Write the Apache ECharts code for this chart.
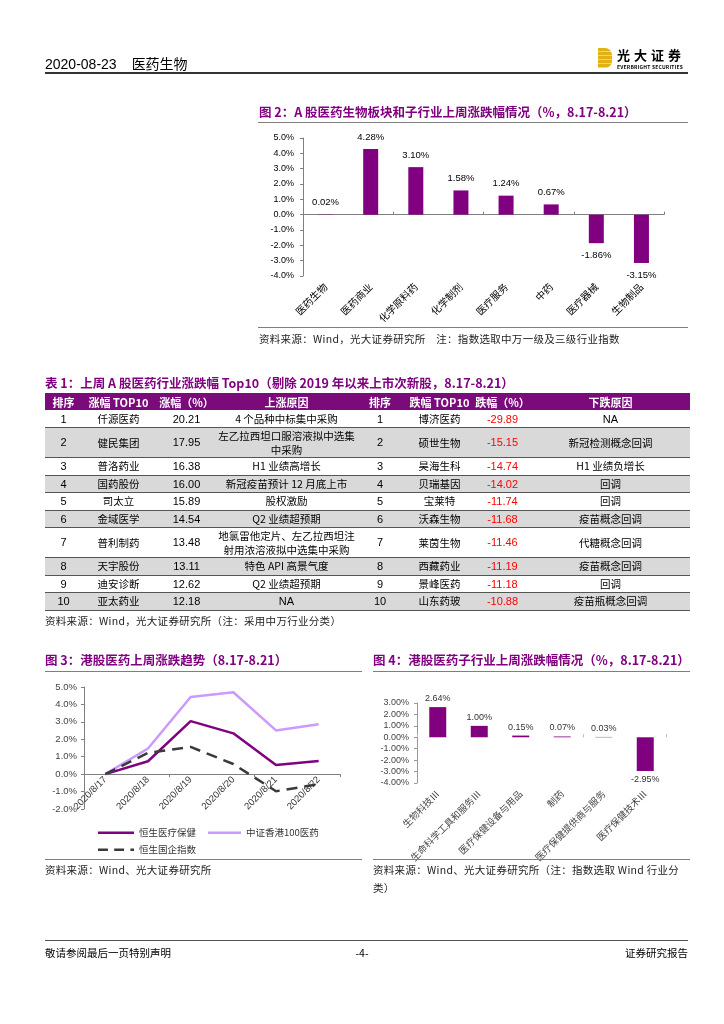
<!DOCTYPE html>
<html>
<head>
<meta charset="utf-8">
<script src="https://cdn.jsdelivr.net/npm/echarts@6/dist/echarts.min.js"></script>
<style>
  html,body{margin:0;padding:0;background:#fff;}
  #page{position:relative;width:724px;height:1024px;overflow:hidden;font-family:"Noto Sans CJK SC","Liberation Sans",sans-serif;color:#000;}
  #chart{position:absolute;left:0;top:0;width:724px;height:1024px;}
  .t{position:absolute;white-space:nowrap;}
  .ttl{color:#800080;font-weight:bold;font-size:12.5px;line-height:16px;}
  .src{font-size:10.5px;line-height:14px;color:#222;letter-spacing:0.3px;}
  .hl{position:absolute;height:0;}
  .num{font-family:"Liberation Sans",Arial,sans-serif;}
  table{position:absolute;left:45px;top:393px;width:645px;border-collapse:collapse;table-layout:fixed;}
  td,th{padding:0;text-align:center;vertical-align:middle;white-space:nowrap;overflow:hidden;box-sizing:border-box;}
  th{background:#7B0A7B;color:#fff;font-size:11px;font-weight:bold;height:17px;line-height:12px;}
  td{font-size:10.5px;height:17.5px;line-height:12px;}
  tr.b td{border-bottom:1px solid #555;}
  tr.g td{background:#D9D9D9;}
  tr.d td{height:30px;line-height:13.5px;}
  td.n{font-family:"Liberation Sans",Arial,sans-serif;font-size:11px;}
  td.r{color:#FF0000;}
</style>
</head>
<body>
<div id="page">
  <div id="chart"></div>

  <!-- header -->
  <div class="t" style="left:45px;top:54px;font-size:14px;line-height:18px;"><span class="num">2020-08-23</span><span style="margin-left:15px;">医药生物</span></div>
  <div class="hl" style="left:45px;top:72px;width:643px;border-top:2px solid #333;"></div>
  <div style="position:absolute;left:598px;top:48px;width:14px;height:20px;background:repeating-linear-gradient(180deg,#E2B215 0 3px,#F3D569 3px 4px);border-radius:0 7px 7px 0;"></div>
  <div class="t" style="left:617px;top:47px;font-size:13px;font-weight:bold;line-height:16px;letter-spacing:4px;font-family:'Noto Sans CJK SC';">光大证券</div>
  <div class="t" style="left:617px;top:64px;font-size:5px;line-height:6px;font-weight:bold;letter-spacing:0.2px;" >EVERBRIGHT SECURITIES</div>

  <!-- figure 2 -->
  <div class="t ttl" style="left:259px;top:104px;">图 2：A 股医药生物板块和子行业上周涨跌幅情况（%，8.17-8.21）</div>
  <div class="hl" style="left:258px;top:122px;width:430px;border-top:1.5px solid #7F7F7F;"></div>
  <div class="hl" style="left:258px;top:327px;width:430px;border-top:1.5px solid #7F7F7F;"></div>
  <div class="t src" style="left:259px;top:332px;">资料来源：Wind，光大证券研究所&nbsp;&nbsp;&nbsp;&nbsp;注：指数选取中万一级及三级行业指数</div>

  <!-- table 1 -->
  <div class="t ttl" style="left:45px;top:375px;">表 1：上周 A 股医药行业涨跌幅 Top10（剔除 2019 年以来上市次新股，8.17-8.21）</div>
  <table id="tbl">
    <colgroup>
      <col style="width:37px"><col style="width:73px"><col style="width:63px"><col style="width:137px">
      <col style="width:50px"><col style="width:69px"><col style="width:57px"><col style="width:159px">
    </colgroup>
    <thead><tr id="thead"></tr></thead>
    <tbody id="tbody"></tbody>
  </table>
  <div class="t src" style="left:45px;top:614px;">资料来源：Wind，光大证券研究所（注：采用中万行业分类）</div>

  <!-- figure 3 -->
  <div class="t ttl" style="left:45px;top:652px;">图 3：港股医药上周涨跌趋势（8.17-8.21）</div>
  <div class="hl" style="left:45px;top:671px;width:317px;border-top:1.5px solid #7F7F7F;"></div>
  <div class="hl" style="left:45px;top:859px;width:317px;border-top:1.5px solid #7F7F7F;"></div>
  <div class="t src" style="left:45px;top:863px;">资料来源：Wind、光大证券研究所</div>

  <!-- figure 4 -->
  <div class="t ttl" style="left:373px;top:652px;">图 4：港股医药子行业上周涨跌幅情况（%，8.17-8.21）</div>
  <div class="hl" style="left:373px;top:671px;width:317px;border-top:1.5px solid #7F7F7F;"></div>
  <div class="hl" style="left:373px;top:859px;width:317px;border-top:1.5px solid #7F7F7F;"></div>
  <div class="t src" style="left:373px;top:861px;line-height:18px;">资料来源：Wind、光大证券研究所（注：指数选取 Wind 行业分<br>类）</div>

  <!-- footer -->
  <div class="hl" style="left:45px;top:940px;width:643px;border-top:1.5px solid #555;"></div>
  <div class="t" style="left:45px;top:946px;font-size:10.5px;line-height:14px;">敬请参阅最后一页特别声明</div>
  <div class="t" style="left:352px;top:946px;width:20px;text-align:center;font-size:10.5px;line-height:14px;">-4-</div>
  <div class="t" style="right:36px;top:946px;font-size:10.5px;line-height:14px;">证券研究报告</div>
</div>

<script>
// ---------- Figure 2: A-share sectors ----------
const fig2Categories = ['医药生物','医药商业','化学原料药','化学制剂','医疗服务','中药','医疗器械','生物制品'];
const fig2Values = [0.02, 4.28, 3.10, 1.58, 1.24, 0.67, -1.86, -3.15];

// ---------- Figure 3: HK trend ----------
const fig3Dates = ['2020/8/17','2020/8/18','2020/8/19','2020/8/20','2020/8/21','2020/8/22'];
const fig3SeriesNames = ['恒生医疗保健','中证香港100医药','恒生国企指数'];
const fig3HsHealthcare = [0, 0.74, 3.04, 2.34, 0.52, 0.75];
const fig3CsiHk100Pharma = [0, 1.47, 4.43, 4.70, 2.51, 2.86];
const fig3Hscei = [0, 1.22, 1.56, 0.58, -0.98, -0.58];

// ---------- Figure 4: HK sub-industries ----------
const fig4Categories = ['生物科技Ⅲ','生命科学工具和服务Ⅲ','医疗保健设备与用品','制药','医疗保健提供商与服务','医疗保健技术Ⅲ'];
const fig4Values = [2.64, 1.00, 0.15, 0.07, 0.03, -2.95];

// ---------- Table 1 ----------
const tableHeaders = ['排序','涨幅 TOP10','涨幅（%）','上涨原因','排序','跌幅 TOP10','跌幅（%）','下跌原因'];
const tableRanks = [1,2,3,4,5,6,7,8,9,10];
const gainNames = ['仟源医药','健民集团','普洛药业','国药股份','司太立','金域医学','普利制药','天宇股份','迪安诊断','亚太药业'];
const gainPct = ['20.21','17.95','16.38','16.00','15.89','14.54','13.48','13.11','12.62','12.18'];
const gainReasons = ['4 个品种中标集中采购','左乙拉西坦口服溶液拟中选集<br>中采购','H1 业绩高增长','新冠疫苗预计 12 月底上市','股权激励','Q2 业绩超预期','地氯雷他定片、左乙拉西坦注<br>射用浓溶液拟中选集中采购','特色 API 高景气度','Q2 业绩超预期','NA'];
const lossNames = ['博济医药','硕世生物','昊海生科','贝瑞基因','宝莱特','沃森生物','莱茵生物','西藏药业','景峰医药','山东药玻'];
const lossPct = ['-29.89','-15.15','-14.74','-14.02','-11.74','-11.68','-11.46','-11.19','-11.18','-10.88'];
const lossReasons = ['NA','新冠检测概念回调','H1 业绩负增长','回调','回调','疫苗概念回调','代糖概念回调','疫苗概念回调','回调','疫苗瓶概念回调'];

// build table
document.getElementById('thead').innerHTML = tableHeaders.map(h => '<th>' + h + '</th>').join('');
const doubleRows = [1, 6];
let rowsHtml = '';
tableRanks.forEach((rk, i) => {
  const cls = ['b'];
  if (i % 2 === 1) cls.push('g');
  if (doubleRows.includes(i)) cls.push('d');
  const numLike = s => /^[A-Za-z0-9 .\-]+$/.test(s);
  rowsHtml += '<tr class="' + cls.join(' ') + '">' +
    '<td class="n">' + rk + '</td>' +
    '<td>' + gainNames[i] + '</td>' +
    '<td class="n">' + gainPct[i] + '</td>' +
    '<td' + (numLike(gainReasons[i]) ? ' class="n"' : '') + '>' + gainReasons[i] + '</td>' +
    '<td class="n">' + rk + '</td>' +
    '<td>' + lossNames[i] + '</td>' +
    '<td class="n r">' + lossPct[i] + '</td>' +
    '<td' + (numLike(lossReasons[i]) ? ' class="n"' : '') + '>' + lossReasons[i] + '</td>' +
    '</tr>';
});
document.getElementById('tbody').innerHTML = rowsHtml;

// charts
const numFont = '"Liberation Sans", Arial, sans-serif';
const cjkFont = '"Noto Sans CJK SC", sans-serif';
const purple = '#800080';
const lightPurple = '#CC99FF';
const darkGray = '#3a3a3a';

const fig3Grid = {left: 84, top: 687, width: 256, height: 122};
const fig3Min = -2, fig3Max = 5;
// label axis offset so labels sit on the zero line
const fig3ZeroOffset = -fig3Grid.height * (0 - fig3Min) / (fig3Max - fig3Min);

const legendText = {fontSize: 9.5, color: '#333', fontFamily: cjkFont};
const solidIcon = 'path://M0,0 L40,0 L40,3 L0,3 Z';
const dashIcon = 'path://M0,0 L11,0 L11,3 L0,3 Z M18,0 L29,0 L29,3 L18,3 Z M36,0 L40,0 L40,3 L36,3 Z';

const chart = echarts.init(document.getElementById('chart'), null, {renderer: 'canvas'});
const option = {
  animation: false,
  grid: [
    {left: 303, top: 138, width: 361, height: 138},
    fig3Grid,
    {left: 417, top: 703, width: 249, height: 80}
  ],
  legend: [
    {data: [{name: fig3SeriesNames[0], icon: solidIcon}], left: 93, top: 823, itemWidth: 36, itemHeight: 3, textStyle: legendText},
    {data: [{name: fig3SeriesNames[1], icon: solidIcon}], left: 203, top: 823, itemWidth: 33, itemHeight: 3, textStyle: legendText},
    {data: [{name: fig3SeriesNames[2], icon: dashIcon}], left: 93, top: 840, itemWidth: 36, itemHeight: 3, textStyle: legendText}
  ],
  xAxis: [
    // fig2 zero line axis
    {gridIndex: 0, type: 'category', data: fig2Categories,
      axisLine: {onZero: true, lineStyle: {color: '#808080', width: 1}},
      axisTick: {show: true, inside: true, length: 3, lineStyle: {color: '#808080'}},
      axisLabel: {show: false}},
    // fig2 label axis at bottom
    {gridIndex: 0, type: 'category', data: fig2Categories, position: 'bottom',
      axisLine: {show: false, onZero: false}, axisTick: {show: false},
      axisLabel: {interval: 0, rotate: 45, margin: 9, fontSize: 10, color: '#000', fontFamily: cjkFont}},
    // fig3 zero-line axis
    {gridIndex: 1, type: 'category', data: fig3Dates,
      axisLine: {onZero: true, lineStyle: {color: '#808080', width: 1}},
      axisTick: {show: true, length: 3, lineStyle: {color: '#808080'}},
      axisLabel: {show: false}},
    // fig3 label axis placed on the zero line
    {gridIndex: 1, type: 'category', data: fig3Dates, position: 'bottom', offset: fig3ZeroOffset,
      axisLine: {show: false, onZero: false}, axisTick: {show: false},
      axisLabel: {interval: 0, rotate: 45, margin: 4, fontSize: 9.5, color: '#333', fontFamily: numFont}},
    // fig4 zero axis
    {gridIndex: 2, type: 'category', data: fig4Categories,
      axisLine: {show: false, onZero: true},
      axisTick: {show: true, inside: true, length: 3, lineStyle: {color: '#bbbbbb'}},
      axisLabel: {show: false}},
    // fig4 label axis
    {gridIndex: 2, type: 'category', data: fig4Categories, position: 'bottom',
      axisLine: {show: false, onZero: false}, axisTick: {show: false},
      axisLabel: {interval: 0, rotate: 45, margin: 9, fontSize: 9.5, color: '#444', fontFamily: cjkFont}}
  ],
  yAxis: [
    {gridIndex: 0, type: 'value', min: -4, max: 5, interval: 1,
      axisLine: {show: true, lineStyle: {color: '#808080'}},
      axisTick: {show: true, length: 3, lineStyle: {color: '#808080'}},
      splitLine: {show: false},
      axisLabel: {margin: 9, fontSize: 9, color: '#000', fontFamily: numFont, formatter: v => v.toFixed(1) + '%'}},
    {gridIndex: 1, type: 'value', min: fig3Min, max: fig3Max, interval: 1,
      axisLine: {show: true, lineStyle: {color: '#808080'}},
      axisTick: {show: true, length: 3, lineStyle: {color: '#808080'}},
      splitLine: {show: false},
      axisLabel: {margin: 7, fontSize: 9.5, color: '#444', fontFamily: numFont, formatter: v => v.toFixed(1) + '%'}},
    {gridIndex: 2, type: 'value', min: -4, max: 3, interval: 1,
      axisLine: {show: true, lineStyle: {color: '#999'}},
      axisTick: {show: true, length: 3, lineStyle: {color: '#999'}},
      splitLine: {show: false},
      axisLabel: {margin: 8, fontSize: 9, color: '#444', fontFamily: numFont, formatter: v => v.toFixed(2) + '%'}}
  ],
  series: [
    {type: 'bar', xAxisIndex: 0, yAxisIndex: 0, barWidth: 15,
      data: fig2Values.map(v => ({value: v, label: {position: v < 0 ? 'bottom' : 'top'}})),
      itemStyle: {color: purple},
      label: {show: true, fontSize: 9.5, color: '#000', fontFamily: numFont, distance: 7,
        formatter: p => p.value.toFixed(2) + '%'}},
    {type: 'line', name: fig3SeriesNames[0], xAxisIndex: 2, yAxisIndex: 1, data: fig3HsHealthcare,
      symbol: 'none', lineStyle: {color: purple, width: 2.5}, itemStyle: {color: purple}},
    {type: 'line', name: fig3SeriesNames[1], xAxisIndex: 2, yAxisIndex: 1, data: fig3CsiHk100Pharma,
      symbol: 'none', lineStyle: {color: lightPurple, width: 2.5}, itemStyle: {color: lightPurple}},
    {type: 'line', name: fig3SeriesNames[2], xAxisIndex: 2, yAxisIndex: 1, data: fig3Hscei,
      symbol: 'none', lineStyle: {color: darkGray, width: 2.5, type: [11, 7]}, itemStyle: {color: darkGray}},
    {type: 'bar', xAxisIndex: 4, yAxisIndex: 2, barWidth: 17,
      data: fig4Values.map(v => ({value: v, label: {position: v < 0 ? 'bottom' : 'top'}})),
      itemStyle: {color: purple},
      label: {show: true, fontSize: 9, color: '#333', fontFamily: numFont, distance: 4,
        formatter: p => p.value.toFixed(2) + '%'}}
  ]
};
chart.setOption(option);
</script>
</body>
</html>
